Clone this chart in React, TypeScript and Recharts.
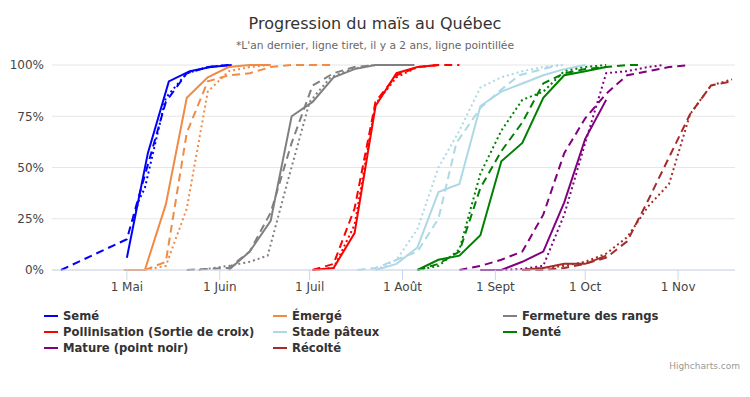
import { LineChart, Line, XAxis, YAxis, CartesianGrid } from 'recharts'

// x = day of year (non-leap), y = % complete
const TICKS = [121, 152, 182, 213, 244, 274, 305]
const TICK_LABELS = ['1 Mai', '1 Juin', '1 Juil', '1 Août', '1 Sept', '1 Oct', '1 Nov']
const Y_TICKS = [0, 25, 50, 75, 100]

const STAGES = [
  'Semé',
  'Émergé',
  'Fermeture des rangs',
  'Pollinisation (Sortie de croix)',
  'Stade pâteux',
  'Denté',
  'Mature (point noir)',
  'Récolté',
]
const COLORS = ['#0000ff', '#f08a44', '#808080', '#ff0000', '#add8e6', '#008000', '#800080', '#a52a2a']

// [day, %] — current year, last year (tiret), 2 years ago (pointillé)
const semeCur = [[121, 6], [128, 57], [135, 92], [142, 97], [149, 99], [156, 100]]
const semePrev = [[99, 0], [121, 15], [125, 36], [134, 82], [141, 96], [148, 99], [155, 100]]
const semePrev2 = [[123, 24], [125, 34], [127, 40], [134, 84], [141, 96], [148, 99], [155, 100]]

const emergeCur = [[120, 0], [127, 0], [134, 32], [141, 84], [148, 94], [155, 99], [162, 100], [169, 100]]
const emergePrev = [[127, 0], [134, 4], [141, 67], [148, 92], [155, 95], [162, 96], [169, 99], [176, 100], [190, 100]]
const emergePrev2 = [[127, 0], [134, 2], [141, 30], [148, 87], [155, 97], [162, 99], [169, 100]]

const fermCur = [[155, 0], [162, 9], [169, 24], [176, 75], [183, 82], [190, 94], [197, 98], [204, 100], [217, 100]]
const fermPrev = [[141, 0], [148, 0.5], [155, 1], [162, 9], [169, 28], [176, 62], [183, 90], [190, 96], [197, 99], [204, 100]]
const fermPrev2 = [[145, 0], [155, 2], [162, 4], [168, 7], [175, 45], [182, 82], [189, 94], [196, 98], [203, 100]]

const pollCur = [[183, 0], [190, 1], [197, 18], [204, 80], [211, 96], [218, 99], [225, 100]]
const pollPrev = [[183, 0], [190, 3], [197, 30], [204, 82], [211, 95], [218, 99], [225, 100], [232, 100]]
const pollPrev2 = [[183, 0], [190, 1], [197, 22], [204, 81], [211, 94], [218, 99], [225, 100]]

const pateuxCur = [[204, 0], [211, 3], [218, 11], [225, 38], [232, 42], [239, 80], [246, 87], [253, 91], [260, 95], [267, 98], [274, 100]]
const pateuxPrev = [[198, 0], [204, 1], [211, 5], [218, 9], [225, 25], [231, 62], [239, 79], [246, 88], [252, 95], [260, 98], [265, 100]]
const pateuxPrev2 = [[204, 0], [211, 5], [218, 20], [225, 50], [232, 68], [239, 89], [246, 94], [253, 97], [260, 99], [267, 100]]

const denteCur = [[218, 0], [225, 5], [232, 7], [239, 17], [246, 53], [253, 62], [260, 84], [267, 95], [274, 97], [281, 99]]
const dentePrev = [[218, 0], [225, 3], [232, 9], [239, 40], [246, 58], [253, 72], [260, 91], [267, 96], [274, 98], [281, 99], [288, 100], [293, 100]]
const dentePrev2 = [[218, 0], [225, 2], [232, 10], [239, 47], [246, 68], [253, 83], [260, 87], [267, 97], [274, 99], [281, 100]]

const matureCur = [[239, 0], [246, 0], [253, 4], [260, 9], [267, 33], [274, 64], [281, 83]]
const maturePrev = [[232, 0], [239, 2], [246, 5], [253, 9], [260, 27], [267, 57], [274, 74], [281, 86], [288, 95], [295, 97], [302, 99], [309, 100]]
const maturePrev2 = [[239, 0], [246, 0], [253, 0.5], [260, 2], [267, 27], [274, 62], [281, 96], [288, 97], [295, 99], [300, 100]]

const recolteCur = [[253, 0], [260, 1], [267, 3], [274, 3], [281, 7]]
const recoltePrev = [[253, 0], [260, 0], [267, 1], [274, 3], [281, 6], [288, 14], [295, 34], [302, 55], [309, 76], [316, 90], [323, 92]]
const recoltePrev2 = [[253, 0], [260, 1], [267, 2], [274, 4], [281, 8], [288, 16], [295, 31], [302, 42], [309, 76], [316, 90], [323, 93]]

const BY_STAGE = [
  [semeCur, semePrev, semePrev2],
  [emergeCur, emergePrev, emergePrev2],
  [fermCur, fermPrev, fermPrev2],
  [pollCur, pollPrev, pollPrev2],
  [pateuxCur, pateuxPrev, pateuxPrev2],
  [denteCur, dentePrev, dentePrev2],
  [matureCur, maturePrev, maturePrev2],
  [recolteCur, recoltePrev, recoltePrev2],
]

const DASHES = [undefined, '8 5', '2 3']
const FONT = '"DejaVu Sans", Verdana, sans-serif'

const toPts = (arr: number[][]) => arr.map(([day, v]) => ({ day, v }))

export default function App() {
  return (
    <div style={{ position: 'absolute', left: 0, top: 0, width: 750, height: 397, fontFamily: FONT, background: '#fff' }}>
      <div style={{ position: 'absolute', top: 14, width: 750, textAlign: 'center', fontSize: 16, color: '#333' }}>
        Progression du maïs au Québec
      </div>
      <div style={{ position: 'absolute', top: 39, width: 750, textAlign: 'center', fontSize: 10.7, color: '#666' }}>
        *L'an dernier, ligne tiret, il y a 2 ans, ligne pointillée
      </div>
      <LineChart width={750} height={397} margin={{ top: 65, right: 15, bottom: 97, left: 0 }}>
        <CartesianGrid vertical={false} stroke="#e6e6e6" />
        <XAxis
          type="number"
          dataKey="day"
          domain={[96, 324]}
          ticks={TICKS}
          allowDataOverflow
          tickFormatter={(d) => TICK_LABELS[TICKS.indexOf(d)] ?? ''}
          stroke="#ccd6eb"
          tickSize={10}
          height={30}
          tick={{ fill: '#444', fontSize: 12, fontFamily: FONT }}
        />
        <YAxis
          type="number"
          domain={[0, 100]}
          ticks={Y_TICKS}
          tickFormatter={(v) => `${v}%`}
          width={52}
          axisLine={false}
          tickLine={false}
          tick={{ fill: '#444', fontSize: 12, fontFamily: FONT }}
        />
        {BY_STAGE.map((years, si) =>
          [2, 1, 0].map((yi) => (
            <Line
              key={`${si}-${yi}`}
              data={toPts(years[yi])}
              dataKey="v"
              name={STAGES[si]}
              type="linear"
              stroke={COLORS[si]}
              strokeWidth={2}
              strokeDasharray={DASHES[yi]}
              dot={false}
              activeDot={false}
              isAnimationActive={false}
            />
          ))
        )}
      </LineChart>
      {STAGES.map((s, i) => (
        <div
          key={s}
          style={{
            position: 'absolute',
            left: [44, 273, 503][i % 3],
            top: 309 + Math.floor(i / 3) * 16,
            display: 'flex',
            alignItems: 'center',
            fontSize: 11.6,
            fontWeight: 'bold',
            color: '#333',
            whiteSpace: 'nowrap',
          }}
        >
          <span style={{ width: 14, height: 2, background: COLORS[i], display: 'inline-block', marginRight: 5 }} />
          {s}
        </div>
      ))}
      <div style={{ position: 'absolute', right: 10, top: 361, fontSize: 9, color: '#999' }}>Highcharts.com</div>
    </div>
  )
}
